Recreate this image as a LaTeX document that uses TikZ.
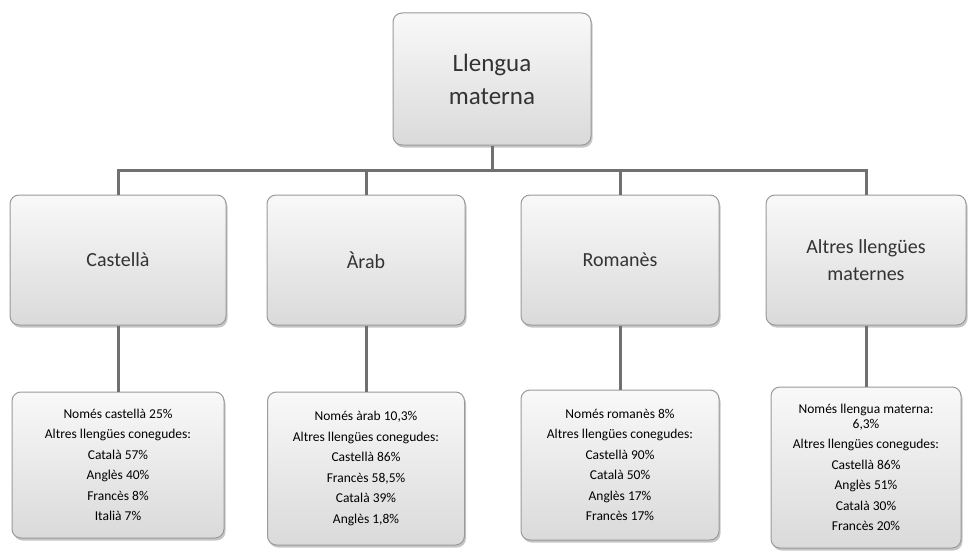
\documentclass[tikz,border=0pt]{standalone}
\usepackage{fontspec}
\setmainfont{Carlito}
\usetikzlibrary{shadows}

\definecolor{linegray}{HTML}{707070}
\definecolor{boxline}{HTML}{9A9A9A}
\definecolor{boxlow}{HTML}{DADADA}

\tikzset{
  card/.style={draw=boxline, line width=1pt, rounded corners=9pt,
    top color=white!95!gray, bottom color=boxlow,
    drop shadow={shadow xshift=1.5pt, shadow yshift=-2.5pt, fill=black!45, opacity=0.5},
    align=center, inner sep=3pt, text=black!80},
  rootbox/.style={card, minimum width=198pt, minimum height=132pt,
    font=\fontsize{25}{33}\selectfont},
  langbox/.style={card, minimum width=198pt, minimum height=130pt,
    font=\fontsize{20}{27}\selectfont},
  databox/.style={card, minimum width=198pt,
    font=\fontsize{13.5}{20.5}\selectfont, text=black},
  link/.style={draw=linegray, line width=3pt}
}

\begin{document}
\begin{tikzpicture}[x=1pt, y=-1pt]

    \useasboundingbox (0,0) rectangle (969,551);

    % --- Top node ---
    \node[rootbox] (root) at (492, 79) {Llengua\\materna};

    % --- Mother tongues ---
    \node[langbox, minimum width=216pt] (cast) at (118, 260) {Castellà};
    \node[langbox] (arab) at (366, 260) {Àrab};
    \node[langbox] (roma) at (620, 260) {Romanès};
    \node[langbox, minimum width=200pt] (altr) at (866, 260) {Altres llengües\\maternes};

    % --- Known languages ---
    \node[databox, minimum width=212pt, minimum height=146pt] (dcast) at (118, 465)
        {Només castellà 25\%\\Altres llengües conegudes:\\Català 57\%\\Anglès 40\%\\Francès 8\%\\Italià 7\%};
    \node[databox, minimum width=197pt, minimum height=153pt] (darab) at (366, 468.5)
        {Només àrab 10,3\%\\Altres llengües conegudes:\\Castellà 86\%\\Francès 58,5\%\\Català 39\%\\Anglès 1,8\%};
    \node[databox, minimum width=198pt, minimum height=150pt] (droma) at (620, 465)
        {Només romanès 8\%\\Altres llengües conegudes:\\Castellà 90\%\\Català 50\%\\Anglès 17\%\\Francès 17\%};
    \node[databox, minimum width=190pt, minimum height=161pt] (daltr) at (866, 467.5)
        {Només llengua materna:\\[-6pt]6,3\%\\Altres llengües conegudes:\\Castellà 86\%\\Anglès 51\%\\Català 30\%\\Francès 20\%};

    % --- Connectors ---
    \coordinate (bar) at (492, 170);
    \draw[link] (root.south) -- (bar);
    \draw[link] (bar) -| (cast.north);
    \draw[link] (bar) -| (arab.north);
    \draw[link] (bar) -| (roma.north);
    \draw[link] (bar) -| (altr.north);

    \draw[link] (cast.south) -- (dcast.north);
    \draw[link] (arab.south) -- (darab.north);
    \draw[link] (roma.south) -- (droma.north);
    \draw[link] (altr.south) -- (daltr.north);

\end{tikzpicture}
\end{document}
